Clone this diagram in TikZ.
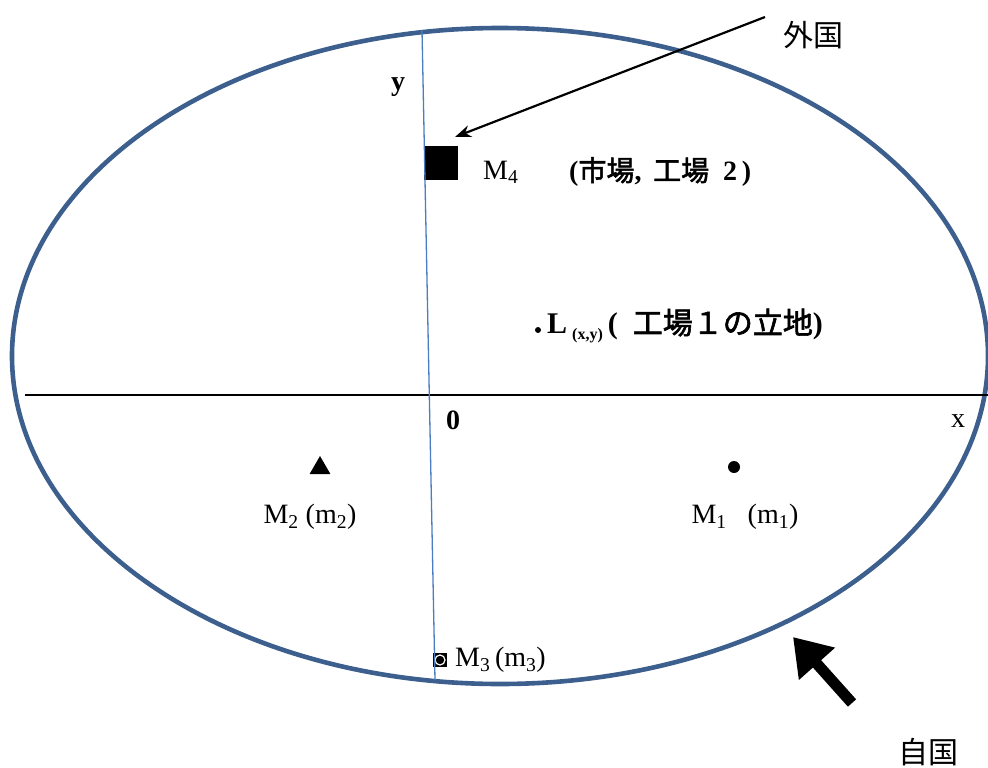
\documentclass[tikz,border=0pt]{standalone}
\usepackage{fontspec}
\setmainfont{Liberation Serif}
\newfontfamily\jp{Noto Sans CJK JP}[AutoFakeBold=2]
\usetikzlibrary{arrows.meta,shapes.geometric}

\definecolor{rim}{RGB}{60,95,142}
\definecolor{yaxis}{RGB}{75,125,195}

\begin{document}
\begin{tikzpicture}[
  x=1pt,y=-1pt,
  lbl/.style={inner sep=0pt,font=\fontsize{28}{32}\selectfont},
  blbl/.style={inner sep=0pt,font=\fontsize{28}{32}\selectfont\bfseries},
  jlbl/.style={inner sep=0pt,font=\fontsize{30}{34}\selectfont\jp},
  arr/.style={-{Stealth[length=16pt,width=12pt]},line width=2.2pt},
  bigarr/.style={-{Triangle[length=36pt,width=46pt]},line width=11pt},
  spot/.style={inner sep=0pt,fill=black}
]
\useasboundingbox (0,0) rectangle (988,768);

% home country
\draw[rim,line width=4.6pt] (500,356) ellipse [x radius=488,y radius=328];

% axes
\draw[line width=1.4pt] (25,395) -- (988,395);

% markets and plant
\node[spot,rectangle,minimum size=34pt] (m4sq) at (441,163) {};
\node[spot,regular polygon,regular polygon sides=3,minimum size=24pt] (m2tri) at (320,468) {};
\node[spot,circle,minimum size=12pt] (m1dot) at (734,467) {};
\node[spot,circle,minimum size=6pt] (ldot) at (538,330) {};
\node[spot,rectangle,minimum size=14pt] (m3sq) at (440,660) {};
\node[circle,draw=white,fill=black,line width=1.2pt,minimum size=10pt,inner sep=0pt] at (m3sq) {};

\draw[yaxis,line width=1.3pt] (422,30) -- (435,680);

\node[blbl] (ylbl) at (398,87) {y};
\node[blbl] (olbl) at (453,420) {0};
\node[lbl] (xlbl) at (958,421) {x};

\node[lbl,anchor=west] (m4lbl) at (483,172) {M\textsubscript{4}};
\node[blbl,anchor=west] (m4info) at (569,172)
  {({\jp 市場}, \,{\jp 工場}\ \ 2\,)};
\node[blbl,anchor=west,font=\fontsize{30}{34}\selectfont\bfseries] (llbl) at (547,326)
  {L\,\raisebox{-6pt}{\fontsize{16}{18}\selectfont(x,y)}\,(\ \ {\jp 工場１の立地})};
\node[lbl] (m2lbl) at (310,517) {M\textsubscript{2} (m\textsubscript{2})};
\node[lbl] (m1lbl) at (745,517) {M\textsubscript{1}\ \ \ (m\textsubscript{1})};
\node[lbl,anchor=west] (m3lbl) at (455,660) {M\textsubscript{3}\,(m\textsubscript{3})};

% foreign and home country
\node[jlbl] (gaikoku) at (813,35) {外国};
\node[jlbl] (jikoku) at (928,752) {自国};

\coordinate (gkfrom) at (765,17);
\coordinate (gkto) at (455,137);
\draw[arr] (gkfrom) -- (gkto);

\coordinate (jkfrom) at (852,703);
\coordinate (jkto) at (793,637);
\draw[bigarr] (jkfrom) -- (jkto);

\end{tikzpicture}
\end{document}
